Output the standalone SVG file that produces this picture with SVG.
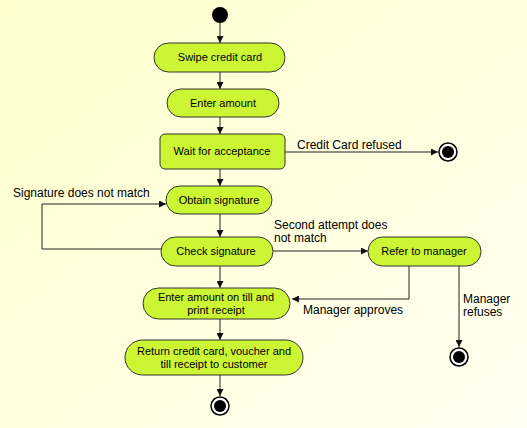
<svg xmlns="http://www.w3.org/2000/svg" width="527" height="428" viewBox="0 0 527 428">
<style>
.n{fill:#ccf533;stroke:#333;stroke-width:1}
.t{font-family:"Liberation Sans",Arial,sans-serif;font-size:11px;fill:#000;text-anchor:middle}
.l{font-family:"Liberation Sans",Arial,sans-serif;font-size:12px;fill:#000}
.c{fill:none;stroke:#222;stroke-width:1;marker-end:url(#a)}
</style>
<defs>
<linearGradient id="bg" x1="0" y1="0" x2="1" y2="1">
<stop offset="0" stop-color="#ffffcc"/>
<stop offset="1" stop-color="#fffff2"/>
</linearGradient>
<marker id="a" viewBox="0 0 8 8" refX="8" refY="4" markerWidth="7" markerHeight="7" markerUnits="userSpaceOnUse" orient="auto">
<path d="M0,0L8,4L0,8z" fill="#111"/>
</marker>
</defs>
<rect x="0" y="0" width="527" height="428" fill="url(#bg)"/>
<g id="connectors">
<path class="c" d="M220,23V43"/>
<path class="c" d="M220,72V89"/>
<path class="c" d="M220,117V134"/>
<path class="c" d="M285,152H438"/>
<path class="c" d="M220,169V186"/>
<path class="c" d="M220,214V237"/>
<path class="c" d="M161,249H42V204H166"/>
<path class="c" d="M273,251H368"/>
<path class="c" d="M409,266V299H292"/>
<path class="c" d="M459,266V347"/>
<path class="c" d="M220,266V288"/>
<path class="c" d="M220,319V340"/>
<path class="c" d="M220,375V396"/>
<text class="l" x="297" y="149">Credit Card refused</text>
<text class="l" x="13" y="197">Signature does not match</text>
<text class="l" x="274" y="229">Second attempt does</text>
<text class="l" x="274" y="242">not match</text>
<text class="l" x="303" y="314" fill="#1a1a40">Manager approves</text>
<text class="l" x="463" y="303">Manager</text>
<text class="l" x="463" y="316">refuses</text>
</g>
<g id="start"><circle cx="220" cy="15" r="8" fill="#000"/></g>
<g id="swipe"><rect class="n" x="154" y="43" width="131" height="29" rx="14.5"/><text class="t" x="220" y="61">Swipe credit card</text></g>
<g id="enter"><rect class="n" x="167" y="89" width="112" height="28" rx="14"/><text class="t" x="223" y="107">Enter amount</text></g>
<g id="wait"><rect class="n" x="160" y="134" width="125" height="35" rx="5"/><text class="t" x="222" y="155">Wait for acceptance</text></g>
<g id="end1"><circle cx="448" cy="152" r="9" fill="#fff" stroke="#000" stroke-width="1.5"/><circle cx="448" cy="152" r="6" fill="#000"/></g>
<g id="obtain"><rect class="n" x="166" y="186" width="106" height="28" rx="14"/><text class="t" x="219" y="204">Obtain signature</text></g>
<g id="check"><rect class="n" x="161" y="237" width="112" height="29" rx="14.5"/><text class="t" x="216" y="255">Check signature</text></g>
<g id="refer"><rect class="n" x="368" y="237" width="113" height="29" rx="14.5"/><text class="t" x="424" y="255">Refer to manager</text></g>
<g id="till"><rect class="n" x="143" y="288" width="147" height="31" rx="15.5"/><text class="t" x="216" y="301">Enter amount on till and</text><text class="t" x="216" y="314">print receipt</text></g>
<g id="ret"><rect class="n" x="125" y="340" width="178" height="35" rx="17.5"/><text class="t" x="214" y="355">Return credit card, voucher and</text><text class="t" x="214" y="368">till receipt to customer</text></g>
<g id="end2"><circle cx="459" cy="357" r="9" fill="#fff" stroke="#000" stroke-width="1.5"/><circle cx="459" cy="357" r="6" fill="#000"/></g>
<g id="end3"><circle cx="220" cy="406" r="9" fill="#fff" stroke="#000" stroke-width="1.5"/><circle cx="220" cy="406" r="6" fill="#000"/></g>
</svg>
